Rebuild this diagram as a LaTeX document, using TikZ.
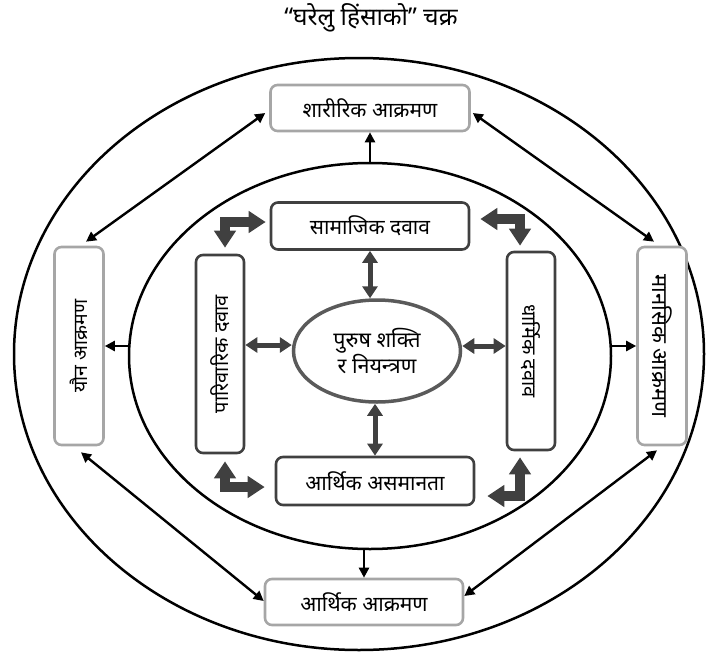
\documentclass[tikz,border=0pt]{standalone}
\usepackage{fontspec}
\usepackage{graphicx}
\newfontfamily\dev[Script=Devanagari]{Noto Sans}
\usetikzlibrary{arrows.meta,calc,shapes.geometric}
\definecolor{outerg}{HTML}{A6A6A6}
\definecolor{dk}{HTML}{404040}
\definecolor{coreg}{HTML}{5A5A5A}
\newcommand{\fsz}[1]{\fontsize{#1}{26}\selectfont}
\begin{document}
\begin{tikzpicture}[x=1pt,y=-1pt,
  every node/.style={font=\dev\fsz{21}},
  obox/.style={draw=outerg, line width=2.6pt, rounded corners=7pt, fill=white, inner sep=0pt},
  ibox/.style={draw=dk, line width=2.6pt, rounded corners=7pt, fill=white, inner sep=0pt},
  ring/.style={ellipse, draw=black, line width=2.5pt, inner sep=0pt},
  coreell/.style={ellipse, draw=coreg, line width=3.5pt, inner sep=0pt, align=center, fill=white},
  blk/.style={line width=2.4pt, -{Triangle[length=10pt,width=10pt]}},
  blk2/.style={line width=2.4pt, {Triangle[length=10pt,width=10pt]}-{Triangle[length=10pt,width=10pt]}},
  dkarr/.style={draw=dk, line width=5pt, {Triangle[length=12pt,width=15pt]}-{Triangle[length=12pt,width=15pt]}},
  bent/.style={draw=dk, line width=10.5pt, line join=miter, {Triangle[length=17pt,width=21pt]}-{Triangle[length=17pt,width=21pt]}},
]
\useasboundingbox (0,0) rectangle (707,653);
% title
\node[font=\dev\fsz{24.5}] (title) at (371,18) {“घरेलु हिंसाको” चक्र};
% rings
\node[ring, minimum width=690, minimum height=592] (outer) at (359,354) {};
\node[ring, minimum width=482, minimum height=386] (inner) at (370,356) {};
% outer boxes
\node[obox, minimum width=199, minimum height=46] (phys) at (370,108) {शारीरिक आक्रमण};
\node[obox, minimum width=198, minimum height=46] (econ) at (364,602) {आर्थिक आक्रमण};
\node[obox, minimum width=49, minimum height=198, font=\dev\fsz{19.5}] (yaun) at (79,346) {\rotatebox{90}{यौन आक्रमण}};
\node[obox, minimum width=49, minimum height=198, font=\dev\fsz{22}] (mans) at (662,346) {\rotatebox{-90}{मानसिक आक्रमण}};
% inner boxes
\node[ibox, minimum width=198, minimum height=47] (soc) at (370,226) {सामाजिक दवाव};
\node[ibox, minimum width=198, minimum height=48] (ineq) at (375,481) {आर्थिक असमानता};
\node[ibox, minimum width=48, minimum height=198, font=\dev\fsz{20}] (fam) at (220,354) {\rotatebox{90}{पारिवारिक दवाव}};
\node[ibox, minimum width=48, minimum height=198, font=\dev\fsz{20}] (rel) at (531,351) {\rotatebox{-90}{धार्मिक दवाव}};
% core
\node[coreell, minimum width=167, minimum height=102, font=\dev\fontsize{21.5}{26}\selectfont] (core) at (377,351) {पुरुष शक्ति\\र नियन्त्रण};
% black arrows
\draw[blk] (inner.north) -- (phys.south);
\draw[blk] (econ.north |- inner.south) -- (econ.north);
\draw[blk] (inner.west |- yaun.east) -- (yaun.east);
\draw[blk] (inner.east |- mans.west) -- (mans.west);
\draw[blk2] ($(phys.west)+(-4,5)$) -- ($(yaun.north)+(7,-4)$);
\draw[blk2] ($(phys.east)+(2,5)$) -- ($(mans.north)+(-8,-4)$);
\draw[blk2] ($(yaun.south)+(2,6)$) -- ($(econ.west)+(0,-1)$);
\draw[blk2] ($(mans.south)+(-5,4)$) -- ($(econ.east)+(0,-6)$);
% dark double arrows
\draw[dkarr] (soc.south) -- (soc.south |- core.north);
\draw[dkarr] (ineq.north |- core.south) -- (ineq.north);
\draw[dkarr] ($(fam.east)+(0,-9)$) -- ($(core.west)+(0,-6)$);
\draw[dkarr] ($(core.east)+(0,-5)$) -- ($(rel.west)+(0,-5)$);
% bent arrows
\coordinate (a1) at ($(soc.west)+(-4,-4)$);
\coordinate (a2) at ($(fam.north)+(5,-6)$);
\draw[bent] (a1) -- (a2 |- a1) -- (a2);
\coordinate (b1) at ($(soc.east)+(10,-7)$);
\coordinate (b2) at ($(rel.north)+(-11,-5)$);
\draw[bent] (b1) -- (b2 |- b1) -- (b2);
\coordinate (c1) at ($(fam.south)+(5,7)$);
\coordinate (c2) at ($(ineq.west)+(-10,6)$);
\draw[bent] (c1) -- (c1 |- c2) -- (c2);
\coordinate (d1) at ($(rel.south)+(-11,6)$);
\coordinate (d2) at ($(ineq.east)+(12,15)$);
\draw[bent] (d1) -- (d1 |- d2) -- (d2);
\end{tikzpicture}
\end{document}
